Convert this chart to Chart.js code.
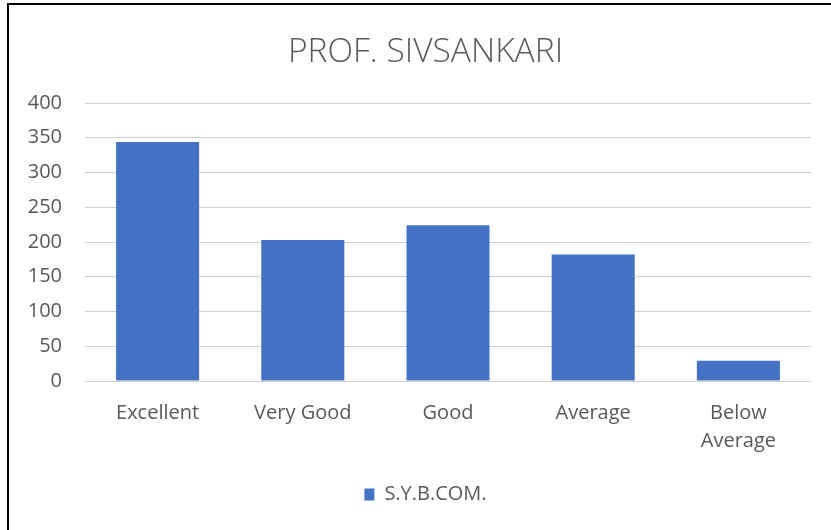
<!DOCTYPE html>
<html>
<head>
<meta charset="utf-8">
<script src="https://cdn.jsdelivr.net/npm/chart.js@4"></script>
<style>
	html, body { margin: 0; padding: 0; background: #fff; }
	#frame {
		position: absolute; left: 7px; top: 3px; width: 840px; height: 540px;
		border-left: 2px solid #000; border-top: 2px solid #000;
	}
	#chart { position: absolute; left: 0; top: 0; }
</style>
</head>
<body>
<div id="frame"></div>
<canvas id="chart" width="831" height="530"></canvas>
<script>
	var categories = ['Excellent', 'Very Good', 'Good', 'Average', ['Below', 'Average']];
	var sybcom = [344, 203, 224, 182, 29];
	var yTicks = [0, 50, 100, 150, 200, 250, 300, 350, 400];

	var textColor = '#595959';
	var family = '"Open Sans", "DejaVu Sans", sans-serif';

	var chart = new Chart(document.getElementById('chart'), {
		type: 'bar',
		data: {
			labels: categories,
			datasets: [{
				label: 'S.Y.B.COM.',
				data: sybcom,
				backgroundColor: '#4472C4',
				borderWidth: 0,
				barPercentage: 0.572,
				categoryPercentage: 1
			}]
		},
		options: {
			responsive: false,
			devicePixelRatio: 1,
			animation: false,
			layout: { padding: { top: 0, left: 20, right: 0, bottom: 15.5 } },
			plugins: {
				tooltip: { enabled: false },
				title: {
					display: true,
					text: 'PROF. SIVSANKARI',
					color: textColor,
					font: { family: family, size: 33.5, weight: 300, lineHeight: 1.2 },
					padding: { top: 31.9, bottom: 30.9 }
				},
				legend: {
					position: 'bottom',
					labels: {
						color: textColor,
						font: { family: family, size: 20 },
						boxWidth: 10,
						boxHeight: 12,
						padding: 10
					}
				}
			},
			scales: {
				x: {
					grid: { display: false, drawTicks: false },
					border: { display: false },
					ticks: {
						color: textColor,
						font: { family: family, size: 20, lineHeight: 1.4 },
						padding: 18,
						maxRotation: 0,
						autoSkip: false
					},
					afterFit: function (scale) { scale.height = 93.5; }
				},
				y: {
					min: 0,
					max: 400,
					afterBuildTicks: function (scale) {
						scale.ticks = yTicks.map(function (v) { return { value: v }; });
					},
					grid: { color: '#D0D0D0', lineWidth: 1, drawTicks: false },
					border: { display: false },
					ticks: {
						color: textColor,
						font: { family: family, size: 20 },
						padding: 23
					},
					afterFit: function (scale) { scale.width = 65; }
				},
				// empty axis on the right, only reserves space so the title sits off-centre like the original
				spacer: {
					type: 'linear',
					position: 'right',
					grid: { display: false },
					border: { display: false },
					ticks: { display: false },
					afterFit: function (scale) { scale.width = 20; }
				}
			}
		}
	});
</script>
</body>
</html>
